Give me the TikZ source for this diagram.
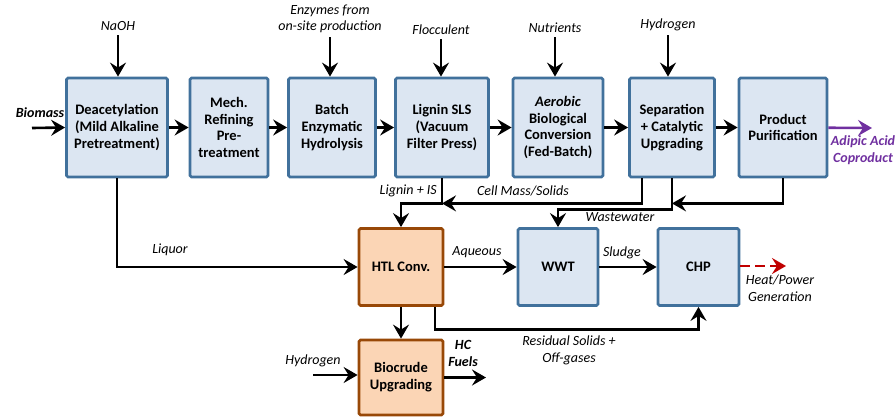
\documentclass[tikz,border=0pt]{standalone}
\usepackage{fontspec}
\setmainfont{Carlito}
\usetikzlibrary{arrows.meta, positioning}

\definecolor{boxblue}{HTML}{DCE6F2}
\definecolor{edgeblue}{HTML}{41719C}
\definecolor{boxorange}{HTML}{FBD5B5}
\definecolor{edgebrown}{HTML}{984807}
\definecolor{adipic}{HTML}{7030A0}
\definecolor{heatred}{HTML}{C00000}

\tikzset{
  proc/.style={draw=edgeblue, fill=boxblue, line width=2.8pt, rounded corners=1.5pt,
    align=center, inner sep=0pt, font=\fontsize{14.5}{16.8}\selectfont\bfseries},
  htlbox/.style={proc, draw=edgebrown, fill=boxorange},
  flow/.style={line width=2.6pt, -{Stealth[length=14pt,width=16pt,inset=5pt]}},
  lbl/.style={font=\fontsize{14}{16.5}\selectfont\itshape, align=center, inner sep=1pt},
  blbl/.style={lbl, font=\fontsize{14}{16.5}\selectfont\bfseries\itshape},
}

\begin{document}
\begin{tikzpicture}[x=1pt, y=-1pt]
    \useasboundingbox (0,0) rectangle (896,418);

    % riga di processo
    \node[proc, minimum width=101pt, minimum height=99pt] (deacet) at (117,127.5)
      {Deacetylation\\(Mild Alkaline\\Pretreatment)};
    \node[proc, minimum width=78pt, minimum height=99pt] (mech) at (229,127.5)
      {Mech.\\Refining\\Pre-\\treatment};
    \node[proc, minimum width=87pt, minimum height=99pt] (batch) at (332,127.5)
      {Batch\\Enzymatic\\Hydrolysis};
    \node[proc, minimum width=93pt, minimum height=99pt] (lignin) at (442,127.5)
      {Lignin SLS\\(Vacuum\\Filter Press)};
    \node[proc, minimum width=90pt, minimum height=99pt] (aerobic) at (558,127.5)
      {\textit{Aerobic}\\Biological\\Conversion\\(Fed-Batch)};
    \node[proc, minimum width=85pt, minimum height=99pt] (separ) at (672,127.5)
      {Separation\\+ Catalytic\\Upgrading};
    \node[proc, minimum width=88pt, minimum height=99pt] (purif) at (783,127.5)
      {Product\\Purification};

    % riga inferiore
    \node[htlbox, minimum width=84pt, minimum height=77pt] (htl) at (401,267) {HTL Conv.};
    \node[htlbox, minimum width=84pt, minimum height=75pt] (biocrude) at (401,377.5)
      {Biocrude\\Upgrading};
    \node[proc, minimum width=80pt, minimum height=77pt] (wwt) at (558,267) {WWT};
    \node[proc, minimum width=81pt, minimum height=77pt] (chp) at (698.5,267) {CHP};

    % alimentazioni dall'alto
    \node[lbl, anchor=south] (naoh) at (118,32) {NaOH};
    \node[lbl, anchor=south] (enzymes) at (330,34) {Enzymes from\\on-site production};
    \node[lbl, anchor=south] (floc) at (441,36) {Flocculent};
    \node[lbl, anchor=south] (nutr) at (555,34) {Nutrients};
    \node[lbl, anchor=south] (hydro) at (668,32) {Hydrogen};
    \foreach \src/\dst in {naoh/deacet, enzymes/batch, floc/lignin, nutr/aerobic, hydro/separ}
      \draw[flow, shorten <=3pt] (\src.south) -- (\src.south |- \dst.north);

    % ingresso biomassa
    \coordinate (biomassin) at (32,128);
    \node[blbl] (biomass) at (40,113) {Biomass};
    \draw[flow] (biomassin) -- (deacet.west);

    % frecce in serie
    \draw[flow] (deacet) -- (mech);
    \draw[flow] (mech) -- (batch);
    \draw[flow] (batch) -- (lignin);
    \draw[flow] (lignin) -- (aerobic);
    \draw[flow] (aerobic) -- (separ);
    \draw[flow] (separ) -- (purif);

    % coprodotto
    \coordinate (adipicend) at (872,128);
    \draw[flow, adipic] (purif) -- (adipicend);
    \node[blbl, text=adipic] (adipiclbl) at (863,150) {Adipic Acid\\Coproduct};

    % liquor
    \draw[flow] (deacet.south) |- (htl.west);
    \node[lbl] (liquor) at (170,250) {Liquor};

    % lignina e solidi
    \path (lignin.south) ++(0,25) coordinate (ligbend);
    \draw[flow] (lignin.south) -- (ligbend) -| (htl.north);
    \node[lbl, anchor=east] (liglbl) at (438,191) {Lignin + IS};
    \draw[flow] ([xshift=-30pt]separ.south) |- (ligbend);
    \node[lbl] (celllbl) at (523,191) {Cell Mass/Solids};

    % acque reflue
    \path (separ.south) ++(0,25) coordinate (sepjoin);
    \draw[flow] (separ.south) -- ++(0,31) -| (wwt.north);
    \node[lbl] (wastelbl) at (620,217) {Wastewater};
    \draw[flow] (purif.south) |- (sepjoin);

    % riga inferiore: collegamenti
    \draw[flow] (htl) -- (wwt);
    \node[lbl] (aqueous) at (477,252) {Aqueous};
    \draw[flow] (wwt) -- (chp);
    \node[lbl] (sludge) at (622,253) {Sludge};

    \coordinate (heatend) at (786,266);
    \draw[line width=2.6pt, heatred, dash pattern=on 10pt off 5pt,
      -{Stealth[length=14pt,width=16pt,inset=5pt]}] (chp.east |- heatend) -- (heatend);
    \node[lbl] (heatlbl) at (780,288.5) {Heat/Power\\Generation};

    \draw[flow] ([xshift=34pt]htl.south) -- ++(0,22.5) -| (chp.south);
    \node[lbl] (residlbl) at (569,350.5) {Residual Solids +\\Off-gases};

    % upgrading
    \draw[flow] (htl) -- (biocrude);
    \coordinate (h2in) at (313,375);
    \node[lbl] (h2lbl) at (313,361) {Hydrogen};
    \draw[flow] (h2in) -- (h2in -| biocrude.west);
    \coordinate (fuelsend) at (486,377.5);
    \draw[flow] (biocrude) -- (fuelsend);
    \node[blbl] (fuels) at (463,353.5) {HC\\Fuels};
\end{tikzpicture}
\end{document}
